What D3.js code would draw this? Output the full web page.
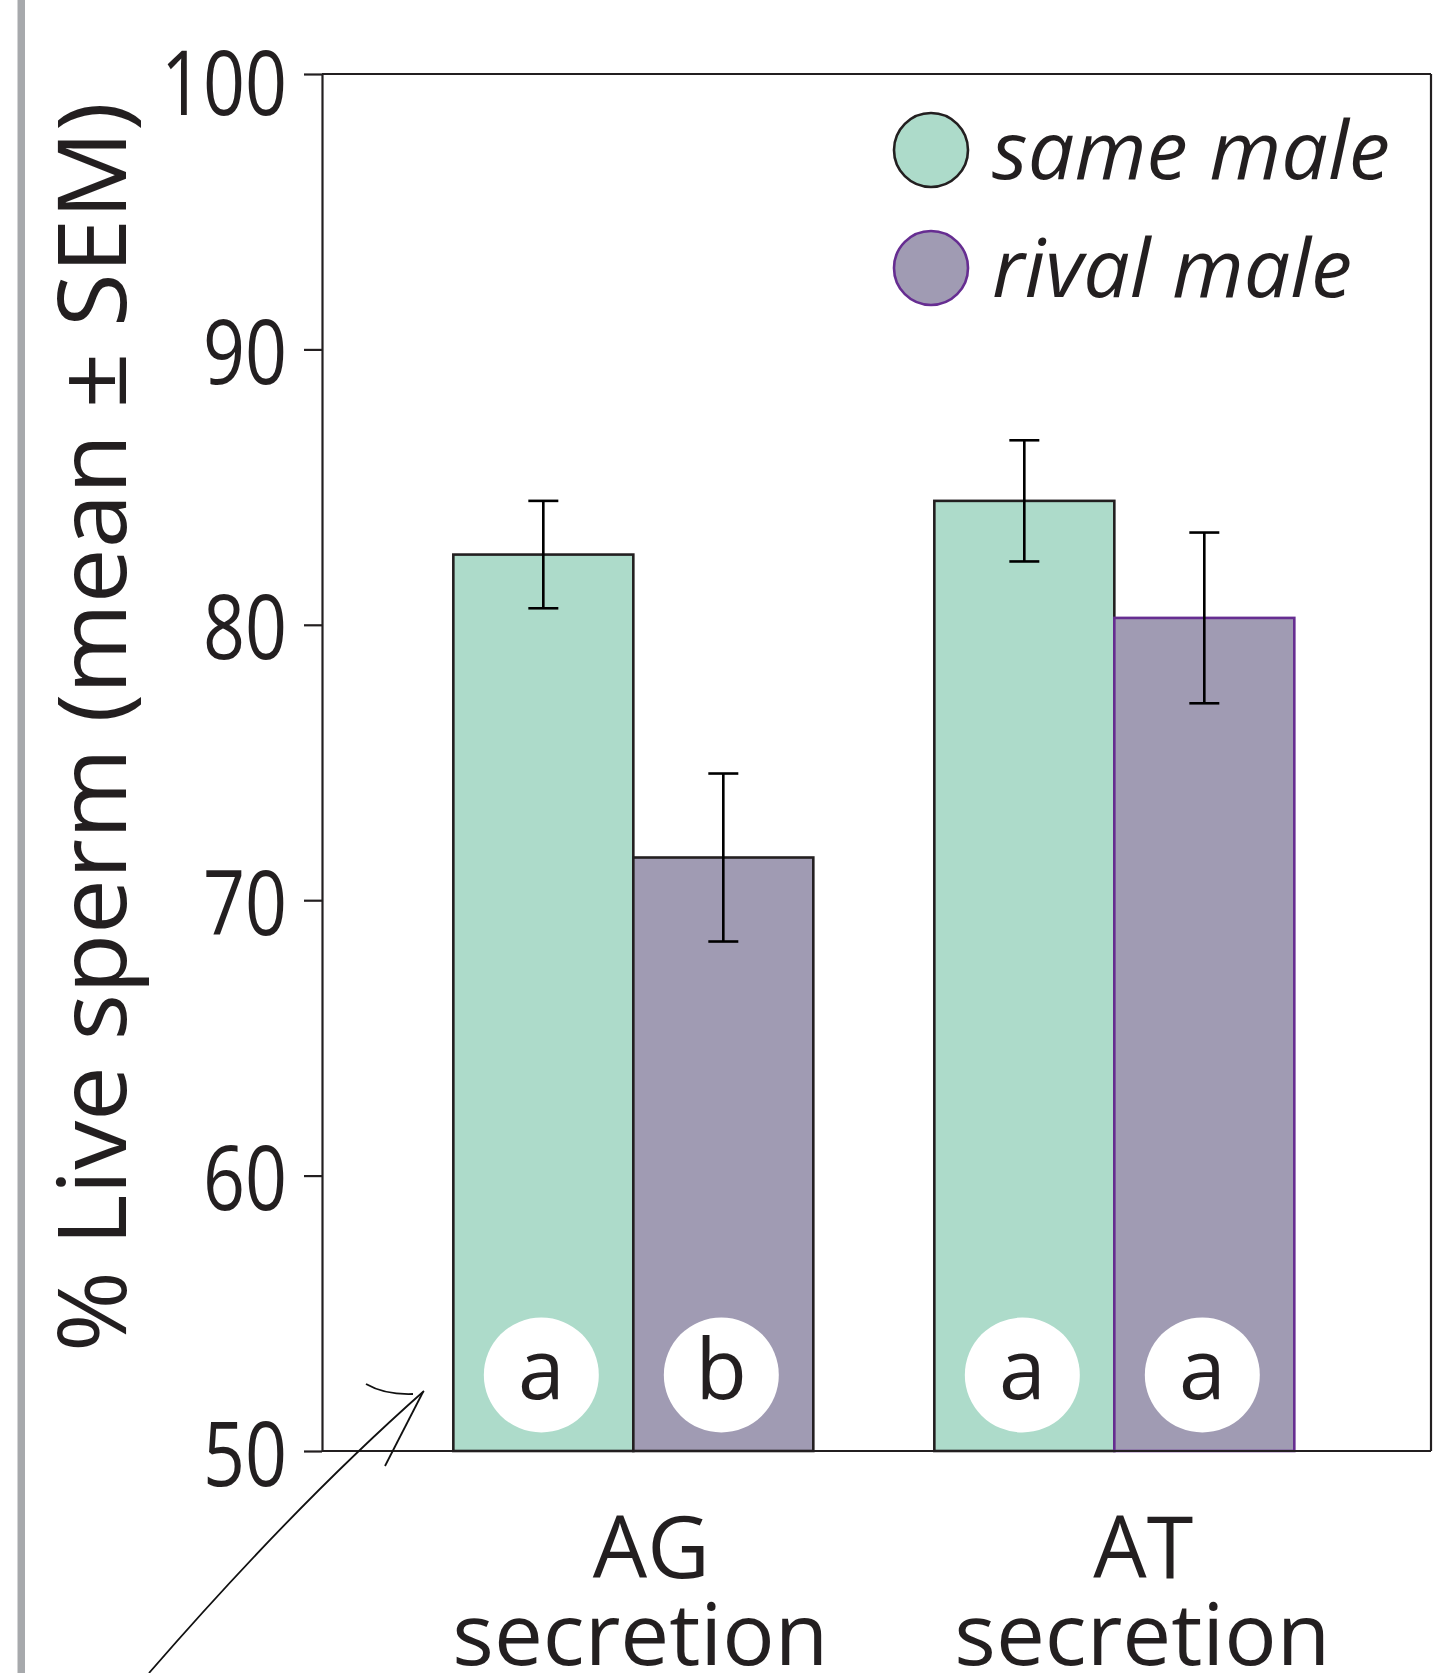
<!DOCTYPE html>
<html>
<head>
<meta charset="utf-8">
<script src="https://cdn.jsdelivr.net/npm/d3@7"></script>
<style>
  html, body { margin: 0; padding: 0; background: #fff; }
  svg { display: block; }
  text { font-family: "Open Sans", "Noto Sans", sans-serif; fill: #231f20; }
</style>
</head>
<body>
<svg id="chart" width="1433" height="1673"></svg>
<script>
// ---- data ----
const categories = ["AG", "AT"];
const categoryLines = [["AG", "secretion"], ["AT", "secretion"]];
const seriesNames = ["same male", "rival male"];
const sameMale = [82.55, 84.5];
const sameMaleSEM = [1.95, 2.2];
const rivalMale = [71.55, 80.25];
const rivalMaleSEM = [3.05, 3.1];
const sameLetters = ["a", "a"];
const rivalLetters = ["b", "a"];
const yTicks = [50, 60, 70, 80, 90, 100];
const yLabel = "% Live sperm (mean \u00B1 SEM)";

// ---- styles / layout ----
const fills = { "same male": "#addbca", "rival male": "#a09bb3" };
const dark = "#231f20";
const purple = "#662d91";
const labelDx = [[18, 7], [29, 28]];
const labelLen = [[117, 376], [100, 376]];

const svg = d3.select("#chart");
const W = 1433, H = 1673;
const m = { left: 322, right: 1431, top: 74, bottom: 1451 };

const y = d3.scaleLinear().domain([50, 100]).range([m.bottom, m.top]);
const x0 = d3.scaleBand().domain(categories).range([m.left, m.right])
  .paddingInner(0.2516).paddingOuter(0.2786).align(0.49);
const x1 = d3.scaleBand().domain(seriesNames).range([0, x0.bandwidth()]);

// gray side bar
svg.append("rect").attr("x", 17.5).attr("y", 0).attr("width", 7.5).attr("height", H)
  .attr("fill", "#a7a9ac");

const rows = categories.map((c, i) => ({
  cat: c,
  bars: [
    { s: "same male", v: sameMale[i], e: sameMaleSEM[i], letter: sameLetters[i], stroke: dark },
    { s: "rival male", v: rivalMale[i], e: rivalMaleSEM[i], letter: rivalLetters[i], stroke: i === 1 ? purple : dark }
  ]
}));

const g = svg.append("g");
const groups = g.selectAll("g.grp").data(rows).join("g")
  .attr("class", "grp")
  .attr("transform", d => `translate(${x0(d.cat)},0)`);

groups.selectAll("rect").data(d => d.bars).join("rect")
  .attr("x", b => x1(b.s))
  .attr("y", b => y(b.v))
  .attr("width", x1.bandwidth())
  .attr("height", b => y(50) - y(b.v))
  .attr("fill", b => fills[b.s])
  .attr("stroke", b => b.stroke)
  .attr("stroke-width", 2.6);

// error bars
const eb = groups.selectAll("g.eb").data(d => d.bars).join("g").attr("class", "eb")
  .attr("transform", b => `translate(${x1(b.s) + x1.bandwidth() / 2},0)`);
eb.append("line").attr("x1", 0).attr("x2", 0)
  .attr("y1", b => y(b.v + b.e)).attr("y2", b => y(b.v - b.e))
  .attr("stroke", "#000").attr("stroke-width", 2.6);
eb.append("line").attr("x1", -15).attr("x2", 15)
  .attr("y1", b => y(b.v + b.e)).attr("y2", b => y(b.v + b.e))
  .attr("stroke", "#000").attr("stroke-width", 2.6);
eb.append("line").attr("x1", -15).attr("x2", 15)
  .attr("y1", b => y(b.v - b.e)).attr("y2", b => y(b.v - b.e))
  .attr("stroke", "#000").attr("stroke-width", 2.6);

// significance letters
const lg = groups.selectAll("g.lt").data(d => d.bars).join("g").attr("class", "lt")
  .attr("transform", b => `translate(${x1(b.s) + x1.bandwidth() / 2 - 2},${y(50) - 76})`);
lg.append("circle").attr("r", 57.5).attr("fill", "#fff");
lg.append("text").attr("text-anchor", "middle").attr("y", 24)
  .attr("font-size", 84).text(b => b.letter);

// frame lines
const frame = svg.append("g").attr("stroke", dark).attr("stroke-width", 2.2).attr("fill", "none");
frame.append("line").attr("x1", m.left).attr("x2", m.right).attr("y1", m.top).attr("y2", m.top);
frame.append("line").attr("x1", m.right).attr("x2", m.right).attr("y1", m.top).attr("y2", m.bottom);
frame.append("line").attr("x1", m.left).attr("x2", m.right).attr("y1", m.bottom).attr("y2", m.bottom);

// y axis
const yAxis = d3.axisLeft(y).tickValues(yTicks).tickSize(18).tickSizeOuter(0).tickFormat(d3.format("d"));
const ya = svg.append("g").attr("transform", `translate(${m.left},0)`).call(yAxis);
ya.select(".domain").attr("stroke", dark).attr("stroke-width", 2.2);
ya.selectAll(".tick line").attr("stroke", dark).attr("stroke-width", 2.2);
ya.selectAll(".tick text")
  .attr("x", -35).attr("dy", null).attr("y", d => d === 100 ? 40 : 34)
  .attr("font-size", 90)
  .attr("font-weight", 500)
  .attr("font-family", "'Open Sans', sans-serif")
  .attr("fill", "#000")
  .attr("textLength", d => String(d).length * 42)
  .attr("lengthAdjust", "spacingAndGlyphs");

// y label
svg.append("text")
  .attr("transform", "translate(126,727) rotate(-90)")
  .attr("text-anchor", "middle")
  .attr("font-size", 96)
  .attr("textLength", 1250)
  .attr("lengthAdjust", "spacingAndGlyphs")
  .text(yLabel);

// x labels
const xl = svg.append("g").selectAll("g").data(categories).join("g")
  .attr("transform", c => `translate(${x0(c) + x0.bandwidth() / 2},0)`);
xl.each(function (c, i) {
  const t = d3.select(this);
  t.append("text").attr("text-anchor", "middle").attr("font-size", 86)
    .attr("x", labelDx[i][0]).attr("y", 1578).attr("textLength", labelLen[i][0])
    .attr("lengthAdjust", "spacingAndGlyphs").text(categoryLines[i][0]);
  t.append("text").attr("text-anchor", "middle").attr("font-size", 86)
    .attr("x", labelDx[i][1]).attr("y", 1665).attr("textLength", labelLen[i][1])
    .attr("lengthAdjust", "spacingAndGlyphs").text(categoryLines[i][1]);
});

// legend
const legY = [150, 268];
const legTextLen = [398, 360];
const leg = svg.append("g").selectAll("g").data(seriesNames).join("g")
  .attr("transform", (s, i) => `translate(931,${legY[i]})`);
leg.append("circle").attr("r", 37)
  .attr("fill", s => fills[s])
  .attr("stroke", (s, i) => i === 0 ? dark : purple)
  .attr("stroke-width", 2.6);
leg.append("text").attr("x", 61).attr("y", 29)
  .attr("font-size", 80).attr("font-style", "italic")
  .attr("textLength", (s, i) => legTextLen[i])
  .attr("lengthAdjust", "spacingAndGlyphs")
  .text(s => s);

// annotation arrow (hand-drawn marks)
const ann = svg.append("g").attr("stroke", "#111").attr("stroke-width", 1.8).attr("fill", "none");
const p1 = d3.path(); p1.moveTo(424, 1391); p1.quadraticCurveTo(295, 1505, 149, 1673);
ann.append("path").attr("d", p1.toString());
const p2 = d3.path(); p2.moveTo(423, 1392); p2.lineTo(385, 1466);
ann.append("path").attr("d", p2.toString());
const p3 = d3.path(); p3.moveTo(366, 1384); p3.quadraticCurveTo(385, 1395, 413, 1394);
ann.append("path").attr("d", p3.toString());
</script>
</body>
</html>
